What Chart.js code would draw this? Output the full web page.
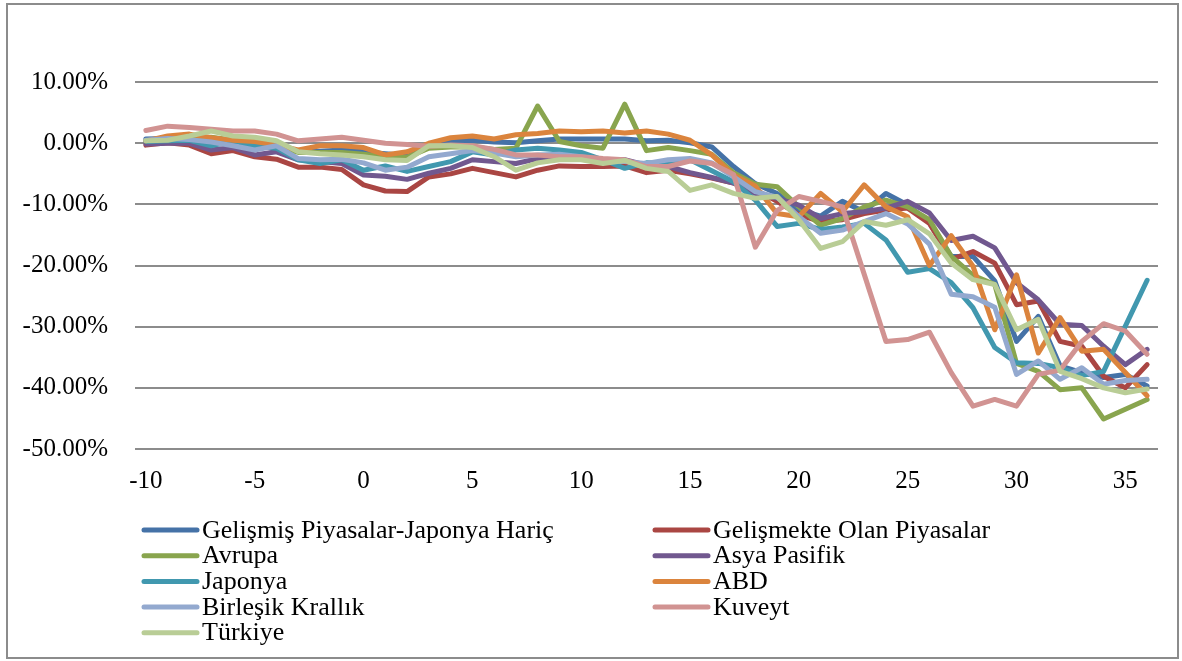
<!DOCTYPE html>
<html>
<head>
<meta charset="utf-8">
<script src="https://cdn.jsdelivr.net/npm/chart.js@4/dist/chart.umd.min.js"></script>
<style>
  html, body { margin: 0; padding: 0; background: #ffffff; }
  #c { display: block; }
</style>
</head>
<body>
<canvas id="c" width="1182" height="661"></canvas>
<script>
// ---- Data (values in percent) ----
const categories = ['-10','-9','-8','-7','-6','-5','-4','-3','-2','-1','0','1','2','3','4','5','6','7','8','9','10','11','12','13','14','15','16','17','18','19','20','21','22','23','24','25','26','27','28','29','30','31','32','33','34','35','36'];

const seriesNames = ['Gelişmiş Piyasalar-Japonya Hariç','Gelişmekte Olan Piyasalar','Avrupa','Asya Pasifik','Japonya','ABD','Birleşik Krallık','Kuveyt','Türkiye'];

const gelismis = [0.7,0.8,1.0,0.8,0.5,0.0,-0.4,-1.3,-1.3,-1.1,-1.4,-1.7,-2.0,-0.3,0.3,0.5,0.2,0.1,0.4,0.7,0.7,0.7,0.7,0.4,0.5,0.1,-0.6,-3.8,-6.6,-8.2,-10.9,-11.9,-9.5,-11.2,-8.2,-10.1,-13.0,-18.5,-18.5,-22.5,-32.4,-28.3,-36.4,-37.5,-38.3,-37.8,-39.7];
const gelismekte = [-0.3,0.1,-0.3,-1.7,-1.2,-2.2,-2.6,-3.9,-3.9,-4.3,-6.8,-7.8,-7.9,-5.5,-5.0,-4.1,-4.8,-5.5,-4.4,-3.7,-3.8,-3.8,-3.7,-4.8,-4.4,-5.0,-5.7,-6.5,-7.6,-9.5,-11.7,-12.8,-12.5,-11.5,-10.9,-10.6,-13.1,-19.0,-17.7,-19.6,-26.4,-25.8,-32.4,-33.2,-38.1,-40.0,-36.2];
const avrupa = [0.4,0.5,1.0,1.0,0.5,0.0,-0.5,-1.5,-1.5,-1.5,-1.8,-2.2,-2.3,-0.8,-0.6,-0.6,-1.0,-0.8,6.1,0.3,-0.4,-0.8,6.4,-1.2,-0.7,-1.2,-1.8,-4.8,-6.7,-7.1,-10.4,-13.4,-12.3,-10.4,-9.3,-10.4,-12.5,-18.5,-21.6,-23.1,-36.0,-37.3,-40.3,-40.0,-45.1,-43.5,-41.9];
const asyaPasifik = [-0.1,0.0,0.0,-1.1,-0.7,-1.9,-1.4,-2.7,-3.0,-3.3,-5.2,-5.4,-5.9,-4.9,-4.1,-2.7,-3.0,-3.3,-2.5,-2.2,-2.2,-2.7,-2.7,-3.6,-3.8,-4.8,-5.6,-6.5,-8.2,-9.0,-10.1,-12.3,-11.5,-11.2,-10.6,-9.5,-11.4,-15.9,-15.2,-17.1,-22.8,-25.6,-29.6,-29.8,-33.2,-36.2,-33.7];
const japonya = [0.3,0.4,0.5,-0.4,0.4,-0.5,-0.8,-2.7,-3.3,-2.7,-4.4,-3.7,-4.6,-3.8,-3.0,-1.4,-1.9,-1.1,-0.8,-1.1,-1.5,-2.7,-4.1,-3.2,-3.3,-2.7,-4.5,-6.3,-9.3,-13.6,-13.1,-14.1,-13.7,-13.1,-15.8,-21.1,-20.5,-22.8,-26.9,-33.4,-35.9,-36.0,-36.7,-38.0,-37.3,-29.9,-22.4];
const abd = [0.4,1.2,1.5,0.9,0.5,0.3,-0.3,-1.1,-0.4,-0.4,-0.7,-1.9,-1.4,0.0,0.9,1.2,0.7,1.4,1.6,2.0,1.9,2.0,1.7,2.0,1.5,0.5,-1.9,-5.2,-7.0,-11.5,-12.0,-8.2,-11.2,-6.8,-10.4,-12.0,-20.0,-15.1,-20.1,-30.5,-21.5,-34.3,-28.5,-34.0,-33.7,-37.5,-41.3];
const birlesikKrallik = [0.5,0.8,0.6,0.2,-0.4,-1.1,-0.4,-2.5,-2.7,-2.6,-3.2,-4.4,-3.9,-2.2,-1.7,-1.2,-1.6,-2.2,-1.9,-1.8,-2.2,-2.7,-3.0,-3.3,-2.7,-2.5,-3.2,-5.5,-7.9,-8.8,-12.0,-14.7,-14.2,-12.8,-11.5,-13.2,-16.5,-24.7,-25.1,-26.8,-37.8,-35.6,-38.6,-36.7,-39.4,-38.8,-38.6];
const kuveyt = [2.1,2.8,2.6,2.3,2.0,2.0,1.5,0.4,0.7,1.0,0.5,0.0,-0.2,-0.5,-0.3,-0.4,-1.0,-1.9,-1.9,-2.2,-2.2,-2.5,-2.7,-3.8,-3.8,-2.9,-3.3,-5.1,-17.0,-11.0,-8.7,-9.5,-10.4,-21.4,-32.4,-32.1,-30.9,-37.5,-43.0,-41.9,-43.0,-37.8,-37.1,-32.4,-29.5,-30.7,-34.5];
const turkiye = [0.4,0.5,1.2,2.0,1.2,1.0,0.4,-1.4,-1.7,-1.9,-2.2,-2.7,-2.8,-0.4,-0.4,-0.7,-2.2,-4.4,-3.2,-2.7,-2.7,-3.3,-2.8,-4.1,-4.6,-7.7,-6.8,-8.2,-9.0,-8.7,-12.5,-17.2,-16.1,-12.8,-13.4,-12.5,-14.8,-19.6,-22.3,-23.1,-30.5,-28.8,-37.3,-38.5,-40.0,-40.8,-40.2];

const seriesValues = [gelismis, gelismekte, avrupa, asyaPasifik, japonya, abd, birlesikKrallik, kuveyt, turkiye];
const seriesColors = ['#4572A7','#AA4643','#89A54E','#71588F','#4198AF','#DB843D','#93A9CF','#D19392','#B9CD96'];

const yMin = -50, yMax = 20, yStep = 10, yLabelMax = 10;

const FONT = '"Liberation Serif", "Times New Roman", serif';

const datasets = seriesValues.map((vals, i) => ({
  label: seriesNames[i],
  data: vals,
  borderColor: seriesColors[i],
  backgroundColor: seriesColors[i],
  borderWidth: 5,
  pointRadius: 0,
  pointHoverRadius: 0,
  tension: 0,
  fill: false,
  borderCapStyle: 'round',
  borderJoinStyle: 'round',
  order: seriesValues.length - i
}));

const frameAndLegend = {
  id: 'frameAndLegend',
  beforeDraw(chart) {
    const ctx = chart.ctx;
    ctx.save();
    ctx.fillStyle = '#ffffff';
    ctx.fillRect(0, 0, chart.width, chart.height);
    ctx.restore();
  },
  afterDraw(chart) {
    const ctx = chart.ctx;
    ctx.save();
    // outer frame
    ctx.strokeStyle = '#8c8c8c';
    ctx.lineWidth = 2;
    ctx.strokeRect(7, 4, 1171, 654);
    // legend
    ctx.font = '26px ' + FONT;
    ctx.textBaseline = 'alphabetic';
    ctx.textAlign = 'left';
    chart.data.datasets.forEach((ds, i) => {
      const col = i % 2, row = Math.floor(i / 2);
      const y = 530 + row * 25.7;
      const x1 = col ? 655 : 144;
      const x2 = col ? 708 : 197;
      const tx = col ? 713 : 202;
      ctx.strokeStyle = ds.borderColor;
      ctx.lineWidth = 5;
      ctx.lineCap = 'round';
      ctx.beginPath();
      ctx.moveTo(x1, y);
      ctx.lineTo(x2, y);
      ctx.stroke();
      ctx.fillStyle = '#000000';
      ctx.fillText(ds.label, tx, y + 7.5);
    });
    ctx.restore();
  }
};

new Chart(document.getElementById('c'), {
  type: 'line',
  data: { labels: categories, datasets },
  options: {
    responsive: false,
    animation: false,
    devicePixelRatio: 1,
    layout: { padding: { left: 0, right: 24, top: 21, bottom: 152 } },
    plugins: {
      legend: { display: false },
      tooltip: { enabled: false },
      title: { display: false }
    },
    scales: {
      x: {
        type: 'category',
        offset: true,
        grid: { display: false, drawTicks: false },
        border: { display: false },
        afterFit(scale) { scale.height = 60; },
        ticks: {
          autoSkip: false,
          maxRotation: 0,
          minRotation: 0,
          padding: 17,
          color: '#000000',
          font: { family: FONT, size: 25 },
          callback(value, index) {
            const lab = categories[index];
            return (Number(lab) % 5 === 0) ? lab : '';
          }
        }
      },
      y: {
        min: yMin,
        max: yMax,
        grid: { color: '#8c8c8c', lineWidth: 2, drawTicks: false },
        border: { display: false },
        afterFit(scale) {
          scale.width = 135;
          scale.paddingTop = 0;
          scale.paddingBottom = 0;
        },
        afterBuildTicks(scale) {
          scale.ticks = scale.ticks.filter(t => t.value <= yLabelMax);
        },
        ticks: {
          stepSize: yStep,
          padding: 27,
          color: '#000000',
          font: { family: FONT, size: 25 },
          callback(value) { return value.toFixed(2) + '%'; }
        }
      }
    }
  },
  plugins: [frameAndLegend]
});
</script>
</body>
</html>
